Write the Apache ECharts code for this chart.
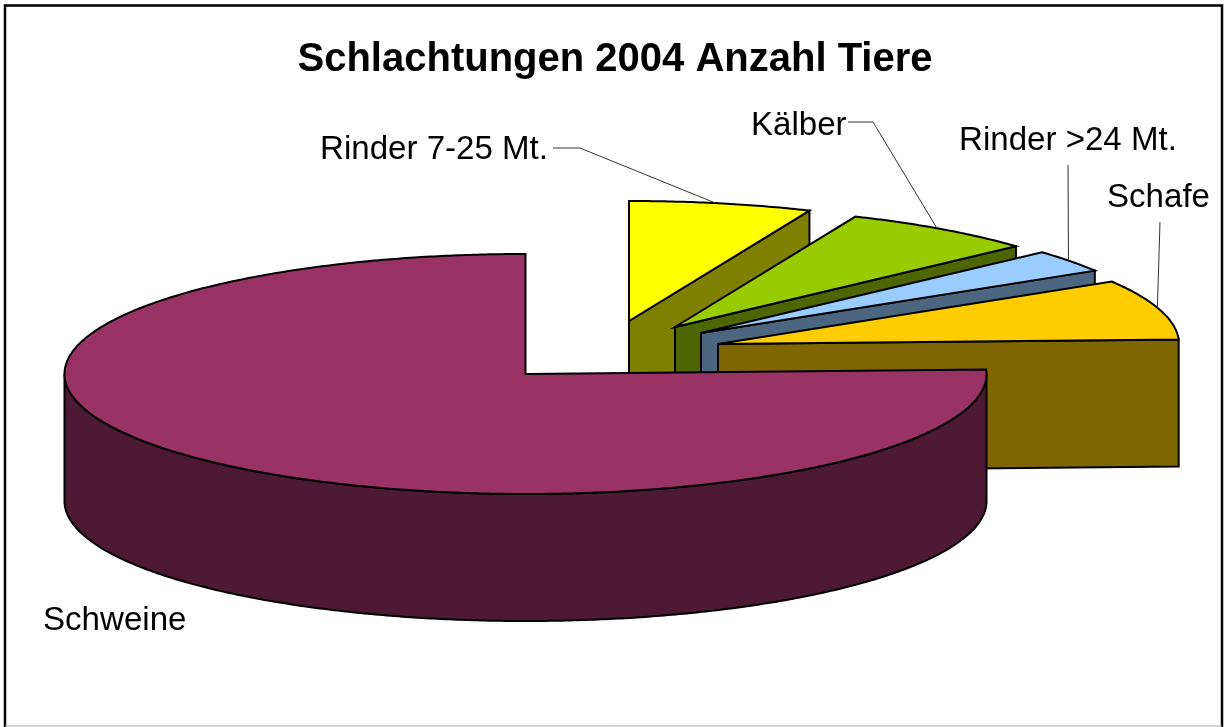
<!DOCTYPE html>
<html>
<head>
<meta charset="utf-8">
<title>Schlachtungen 2004</title>
<script src="https://cdn.jsdelivr.net/npm/echarts@6/dist/echarts.min.js"></script>
<style>
html, body { margin: 0; padding: 0; background: #fff; }
#chart { width: 1226px; height: 727px; }
</style>
</head>
<body>
<div id="chart"></div>
<script>
// Anteile in Prozent, aus dem Bild geschaetzt
var categories = ["Rinder 7-25 Mt.", "Kälber", "Rinder >24 Mt.", "Schafe", "Schweine"];
var shares = [6.4, 6.85, 3.05, 8.1, 75.6];

var topColors = ["#ffff00", "#99cc00", "#99ccff", "#ffcc00", "#993366"];
var wallColors = ["#808000", "#4d6600", "#4d6680", "#806600", "#4d1933"];

// Mittelpunkt jedes (explodierten) Stuecks
var centers = [[629, 321], [675, 327], [701, 333], [718, 344], [525.5, 374]];
var rx = 461, ry = 120, depth = 127;

// Beschriftung: Textposition und Knick der Fuehrungslinie
var labelPos = [[320, 150], [751, 126], [959, 141], [1107, 198], [43, 621]];
var leaderFrom = [[[553, 148], [580, 148]], [[848, 122], [873, 122]], [[1068, 165]], [[1160, 222]], null];

var total = shares.reduce(function (a, b) { return a + b; }, 0);
var startAngles = [];
var sum = 0;
shares.forEach(function (v) {
  startAngles.push(sum / total * 360);
  sum += v;
});

// Winkel im Uhrzeigersinn ab 12 Uhr
function pt(c, deg, dy) {
  var r = deg * Math.PI / 180;
  return [c[0] + rx * Math.sin(r), c[1] - ry * Math.cos(r) + (dy || 0)];
}

function arc(c, a, b, dy) {
  var pts = [];
  var n = Math.max(2, Math.ceil((b - a) / 0.5));
  for (var i = 0; i <= n; i++) {
    pts.push(pt(c, a + (b - a) * i / n, dy));
  }
  return pts;
}

function poly(points, fill) {
  return {
    type: "polygon",
    shape: { points: points },
    style: { fill: fill, stroke: "#000", lineWidth: 2, lineJoin: "miter" }
  };
}

function renderSlice(params, api) {
  var i = params.dataIndex;
  var a = startAngles[i];
  var b = a + api.value(1) / total * 360;
  var c = centers[i];
  var children = [];

  // Schnittflaechen, nur wenn sie nach vorne zeigen
  if (Math.sin(b * Math.PI / 180) > 0.001) {
    var e = pt(c, b);
    children.push(poly([c, e, [e[0], e[1] + depth], [c[0], c[1] + depth]], wallColors[i]));
  }
  // Aussenwand, unterer Halbkreis
  var wa = Math.max(a, 90), wb = Math.min(b, 270);
  if (wb > wa) {
    children.push(poly(arc(c, wa, wb).concat(arc(c, wa, wb, depth).reverse()), wallColors[i]));
  }
  // Oberseite
  children.push(poly([c].concat(arc(c, a, b)), topColors[i]));

  // Fuehrungslinie zum Bogen, knapp vor dessen Mitte
  if (leaderFrom[i]) {
    children.push({
      type: "polyline",
      shape: { points: leaderFrom[i].concat([pt(c, a + (b - a) * 0.47)]) },
      style: { fill: null, stroke: "#333", lineWidth: 1 }
    });
  }
  children.push({
    type: "text",
    style: {
      x: labelPos[i][0],
      y: labelPos[i][1],
      text: categories[i],
      fill: "#000",
      font: "33.1px 'Liberation Sans', Arial, sans-serif",
      verticalAlign: "middle"
    }
  });
  return { type: "group", children: children };
}

var chart = echarts.init(document.getElementById("chart"), null, { renderer: "canvas" });
chart.setOption({
  animation: false,
  backgroundColor: "#fff",
  title: {
    text: "Schlachtungen 2004 Anzahl Tiere",
    left: 610,
    top: 35,
    textAlign: "center",
    textStyle: { fontFamily: "Liberation Sans", fontSize: 40, fontWeight: "bold", color: "#000" }
  },
  graphic: [{
    // Rahmen: unten nur eine duenne graue Linie
    type: "polyline",
    silent: true,
    shape: { points: [[5, 727], [5, 5.5], [1222, 5.5], [1222, 727]] },
    style: { fill: null, stroke: "#000", lineWidth: 2.5 }
  }, {
    type: "line",
    silent: true,
    shape: { x1: 5, y1: 726, x2: 1222, y2: 726 },
    style: { stroke: "#aaa", lineWidth: 1 }
  }],
  series: [{
    type: "custom",
    coordinateSystem: "none",
    renderItem: renderSlice,
    encode: { itemName: 0, value: 1 },
    data: categories.map(function (name, i) { return [name, shares[i]]; })
  }]
});
</script>
</body>
</html>
